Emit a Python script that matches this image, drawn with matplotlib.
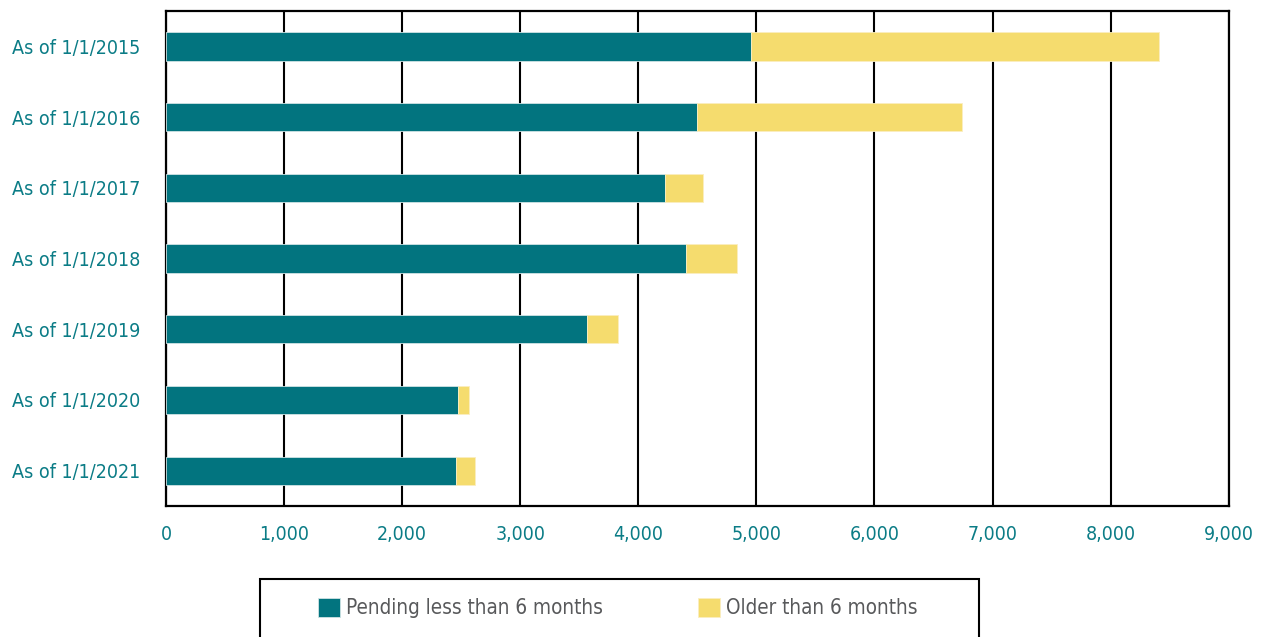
import matplotlib.pyplot as plt
from matplotlib import font_manager as fm
from matplotlib.patches import Rectangle

# Data
labels = ['As of 1/1/2015', 'As of 1/1/2016', 'As of 1/1/2017', 'As of 1/1/2018',
          'As of 1/1/2019', 'As of 1/1/2020', 'As of 1/1/2021']
pending_recent = [4956, 4496, 4230, 4407, 3568, 2475, 2458]
older_6m = [3453, 2246, 314, 432, 263, 93, 163]
x_ticks = [0, 1000, 2000, 3000, 4000, 5000, 6000, 7000, 8000, 9000]

TEAL = '#02747F'
YELLOW = '#F5DC6E'
LABEL = '#0B7C86'
GREY = '#58595B'

# the original uses a condensed face; take one if it exists, else Liberation Sans
narrow = [f for f in fm.fontManager.ttflist
          if ('Narrow' in f.name or 'Condensed' in f.name or f.stretch in ('condensed', 'semi-condensed'))
          and f.style == 'normal']
if narrow:
    FAMILY, STRETCH = narrow[0].name, narrow[0].stretch
else:
    FAMILY, STRETCH = 'Liberation Sans', 'normal'
plt.rcParams['font.family'] = [FAMILY, 'DejaVu Sans']
plt.rcParams['font.stretch'] = STRETCH

fig = plt.figure(figsize=(12.63, 6.37), dpi=100)
renderer = fig.canvas.get_renderer()


def fit_size(text, width_px, base=20):
    # font size that gives the text the pixel width seen in the reference
    t = fig.text(0, 0, text, fontsize=base)
    w = t.get_window_extent(renderer).width
    t.remove()
    return base * width_px / w


ysize = fit_size('As of 1/1/2015', 129)
xsize = fit_size('1,000', 50)
lsize = fit_size('Pending less than 6 months', 257)

ax = fig.add_axes([166 / 1263, 131 / 637, (1228.7 - 166) / 1263, (506 - 11) / 637])

ypos = list(range(len(labels)))
b1 = ax.barh(ypos, pending_recent, height=0.4, color=TEAL, edgecolor='#cfe3e5',
             linewidth=0.6, zorder=3, label='Pending less than 6 months')
b2 = ax.barh(ypos, older_6m, left=pending_recent, height=0.4, color=YELLOW,
             edgecolor='#fbeec0', linewidth=0.6, zorder=3, label='Older than 6 months')

ax.set_xlim(0, 9000)
ax.set_ylim(6.5, -0.5)
ax.set_xticks(x_ticks)
ax.set_xticklabels([f'{v:,}' for v in x_ticks], color=LABEL, fontsize=xsize)
ax.set_yticks(ypos)
ax.set_yticklabels(labels, color=LABEL, fontsize=ysize, ha='left')
ax.tick_params(axis='x', length=0, pad=14)
ax.tick_params(axis='y', length=0, pad=111)

ax.xaxis.grid(True, color='black', linewidth=1.5, zorder=0)
ax.set_axisbelow(True)
for s in ax.spines.values():
    s.set_color('black')
    s.set_linewidth(1.6)

# legend box runs off the bottom of the figure
fig.patches.append(Rectangle((260 / 1263, -0.05), (979 - 260) / 1263, (637 - 579) / 637 + 0.05,
                             transform=fig.transFigure, fill=False, edgecolor='black',
                             linewidth=1.5))
hsize = 22 * 72 / 100 / lsize
fig.legend(handles=[b1, b2], loc='center', bbox_to_anchor=(618 / 1263, 1 - 608 / 637),
           ncol=2, frameon=False, fontsize=lsize, handlelength=hsize, handleheight=hsize,
           handletextpad=6 * 72 / 100 / lsize, columnspacing=95 * 72 / 100 / lsize,
           labelcolor=GREY)

fig.savefig('out.png', dpi=100)
